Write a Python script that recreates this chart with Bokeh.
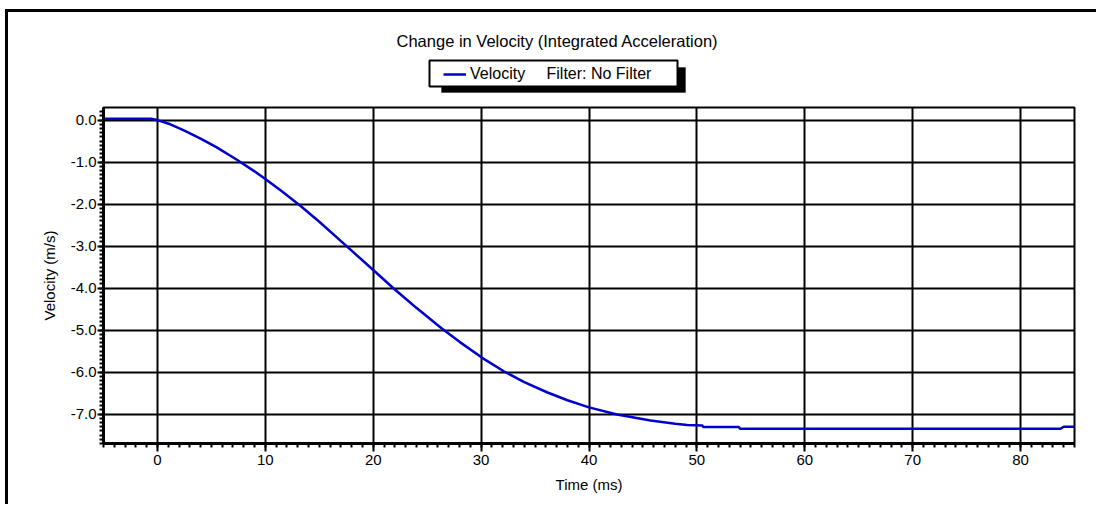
from bokeh.plotting import figure
from bokeh.layouts import column
from bokeh.models import (Range1d, SingleIntervalTicker, PrintfTickFormatter, Label,
                          Legend, LegendItem, BoxAnnotation)
from bokeh.embed import file_html
from bokeh.resources import INLINE

# ---- data ----
time_ms = [-5.0, -0.6, 0.0, 1.2, 2.5, 4.0, 5.5, 7.4, 9.0, 10.0, 11.5, 13.3, 15.0, 17.4,
           20.0, 21.9, 22.9, 24.0, 26.3, 28.0, 30.1, 32.1, 34.0, 36.1, 38.0, 40.0, 42.6,
           45.7, 48.0, 49.1, 50.5, 50.6, 53.9, 54.0, 83.7, 84.0, 85.0]
velocity = [0.03, 0.03, 0.0, -0.10, -0.25, -0.44, -0.65, -0.95, -1.22, -1.40, -1.69, -2.05,
            -2.42, -2.97, -3.57, -4.01, -4.23, -4.47, -4.95, -5.28, -5.66, -5.98, -6.24,
            -6.48, -6.67, -6.84, -7.01, -7.15, -7.23, -7.26, -7.27, -7.31, -7.31, -7.35,
            -7.35, -7.30, -7.30]

title_text = "Change in Velocity (Integrated Acceleration)"
series_name = "Velocity"
filter_text = "Filter: No Filter"
x_label = "Time (ms)"
y_label = "Velocity (m/s)"

FONT = "Liberation Sans"
LINE_COLOR = "#0000CC"
W = 1088
FL, FR = 103, 1074   # page x of the plot frame (header frame is aligned to it)

# ---------------- header (title + legend) ----------------
hdr = figure(width=W, height=93, output_backend="svg", toolbar_location=None, title=None,
             x_range=Range1d(FL, FR), y_range=Range1d(93, 0),
             x_axis_type=None, y_axis_type=None,
             min_border_left=95, min_border_right=W - 95 - 971, min_border_top=0,
             min_border_bottom=0,
             background_fill_color="white", border_fill_color="white")
hdr.outline_line_color = None
hdr.xgrid.visible = False
hdr.ygrid.visible = False

hdr.add_layout(BoxAnnotation(left=441, right=685, top=55, bottom=80,
                             fill_color="black", fill_alpha=1, line_color="black"))
hdr.add_layout(BoxAnnotation(left=429, right=677, top=48, bottom=74,
                             fill_color="white", fill_alpha=1, line_color="black",
                             line_width=2, line_alpha=1))

# same series, falls outside the header's ranges; used only as the legend's glyph
proxy = hdr.line(time_ms, velocity, line_color=LINE_COLOR, line_width=2.5)
legend = Legend(items=[LegendItem(label=series_name, renderers=[proxy])],
                location=(443 - FL, 22),
                orientation="horizontal", padding=0, margin=0, spacing=0,
                glyph_width=23, glyph_height=16, label_height=16, label_standoff=4,
                label_text_font=FONT, label_text_font_size="16px", label_text_color="black",
                background_fill_alpha=0, border_line_alpha=0)
hdr.add_layout(legend)

hdr.add_layout(Label(x=546, y=61, text=filter_text,
                     text_font=FONT, text_font_size="16px", text_color="black",
                     text_align="left", text_baseline="middle"))
hdr.add_layout(Label(x=557, y=28, text=title_text,
                     text_font=FONT, text_font_size="16.5px", text_color="black",
                     text_align="center", text_baseline="middle"))

# ---------------- main plot ----------------
p = figure(width=W, height=399, output_backend="svg", toolbar_location=None, title=None,
           x_range=Range1d(-5, 85), y_range=Range1d(-7.7, 0.3),
           min_border_left=95, min_border_right=W - 95 - 971, min_border_top=2,
           min_border_bottom=61,
           background_fill_color="white", border_fill_color="white")

p.outline_line_color = "black"
p.outline_line_width = 2

xt = SingleIntervalTicker(interval=10, num_minor_ticks=10)
yt = SingleIntervalTicker(interval=1, num_minor_ticks=10)
p.xaxis.ticker = xt
p.yaxis.ticker = yt
p.xgrid.ticker = xt
p.ygrid.ticker = yt
p.yaxis.formatter = PrintfTickFormatter(format="%.1f")

for g in (p.xgrid, p.ygrid):
    g.grid_line_color = "black"
    g.grid_line_width = 2

for ax in (p.xaxis, p.yaxis):
    ax.axis_line_width = 3
    ax.axis_line_color = "black"
    ax.major_tick_line_color = "black"
    ax.minor_tick_line_color = "black"
    ax.major_tick_line_width = 2
    ax.minor_tick_line_width = 2
    ax.major_tick_in = 0
    ax.minor_tick_in = 0
    ax.major_label_text_font = FONT
    ax.major_label_text_font_size = "15px"
    ax.major_label_text_color = "black"
    ax.axis_label_text_font = FONT
    ax.axis_label_text_font_size = "15px"
    ax.axis_label_text_font_style = "normal"
    ax.axis_label_text_color = "black"

p.xaxis.major_tick_out = 8
p.xaxis.minor_tick_out = 4
p.yaxis.major_tick_out = 6
p.yaxis.minor_tick_out = 4
p.xaxis.major_label_standoff = 3
p.yaxis.major_label_standoff = 1
p.xaxis.axis_label = x_label
p.yaxis.axis_label = y_label
p.xaxis.axis_label_standoff = 8
p.yaxis.axis_label_standoff = 10

p.line(time_ms, velocity, line_color=LINE_COLOR, line_width=2.5)

layout = column(hdr, p, spacing=0,
                styles={"margin-left": "5px", "margin-top": "9px",
                        "border-left": "3px solid black", "border-top": "3px solid black"})

open("out.html", "w").write(file_html(layout, INLINE))
